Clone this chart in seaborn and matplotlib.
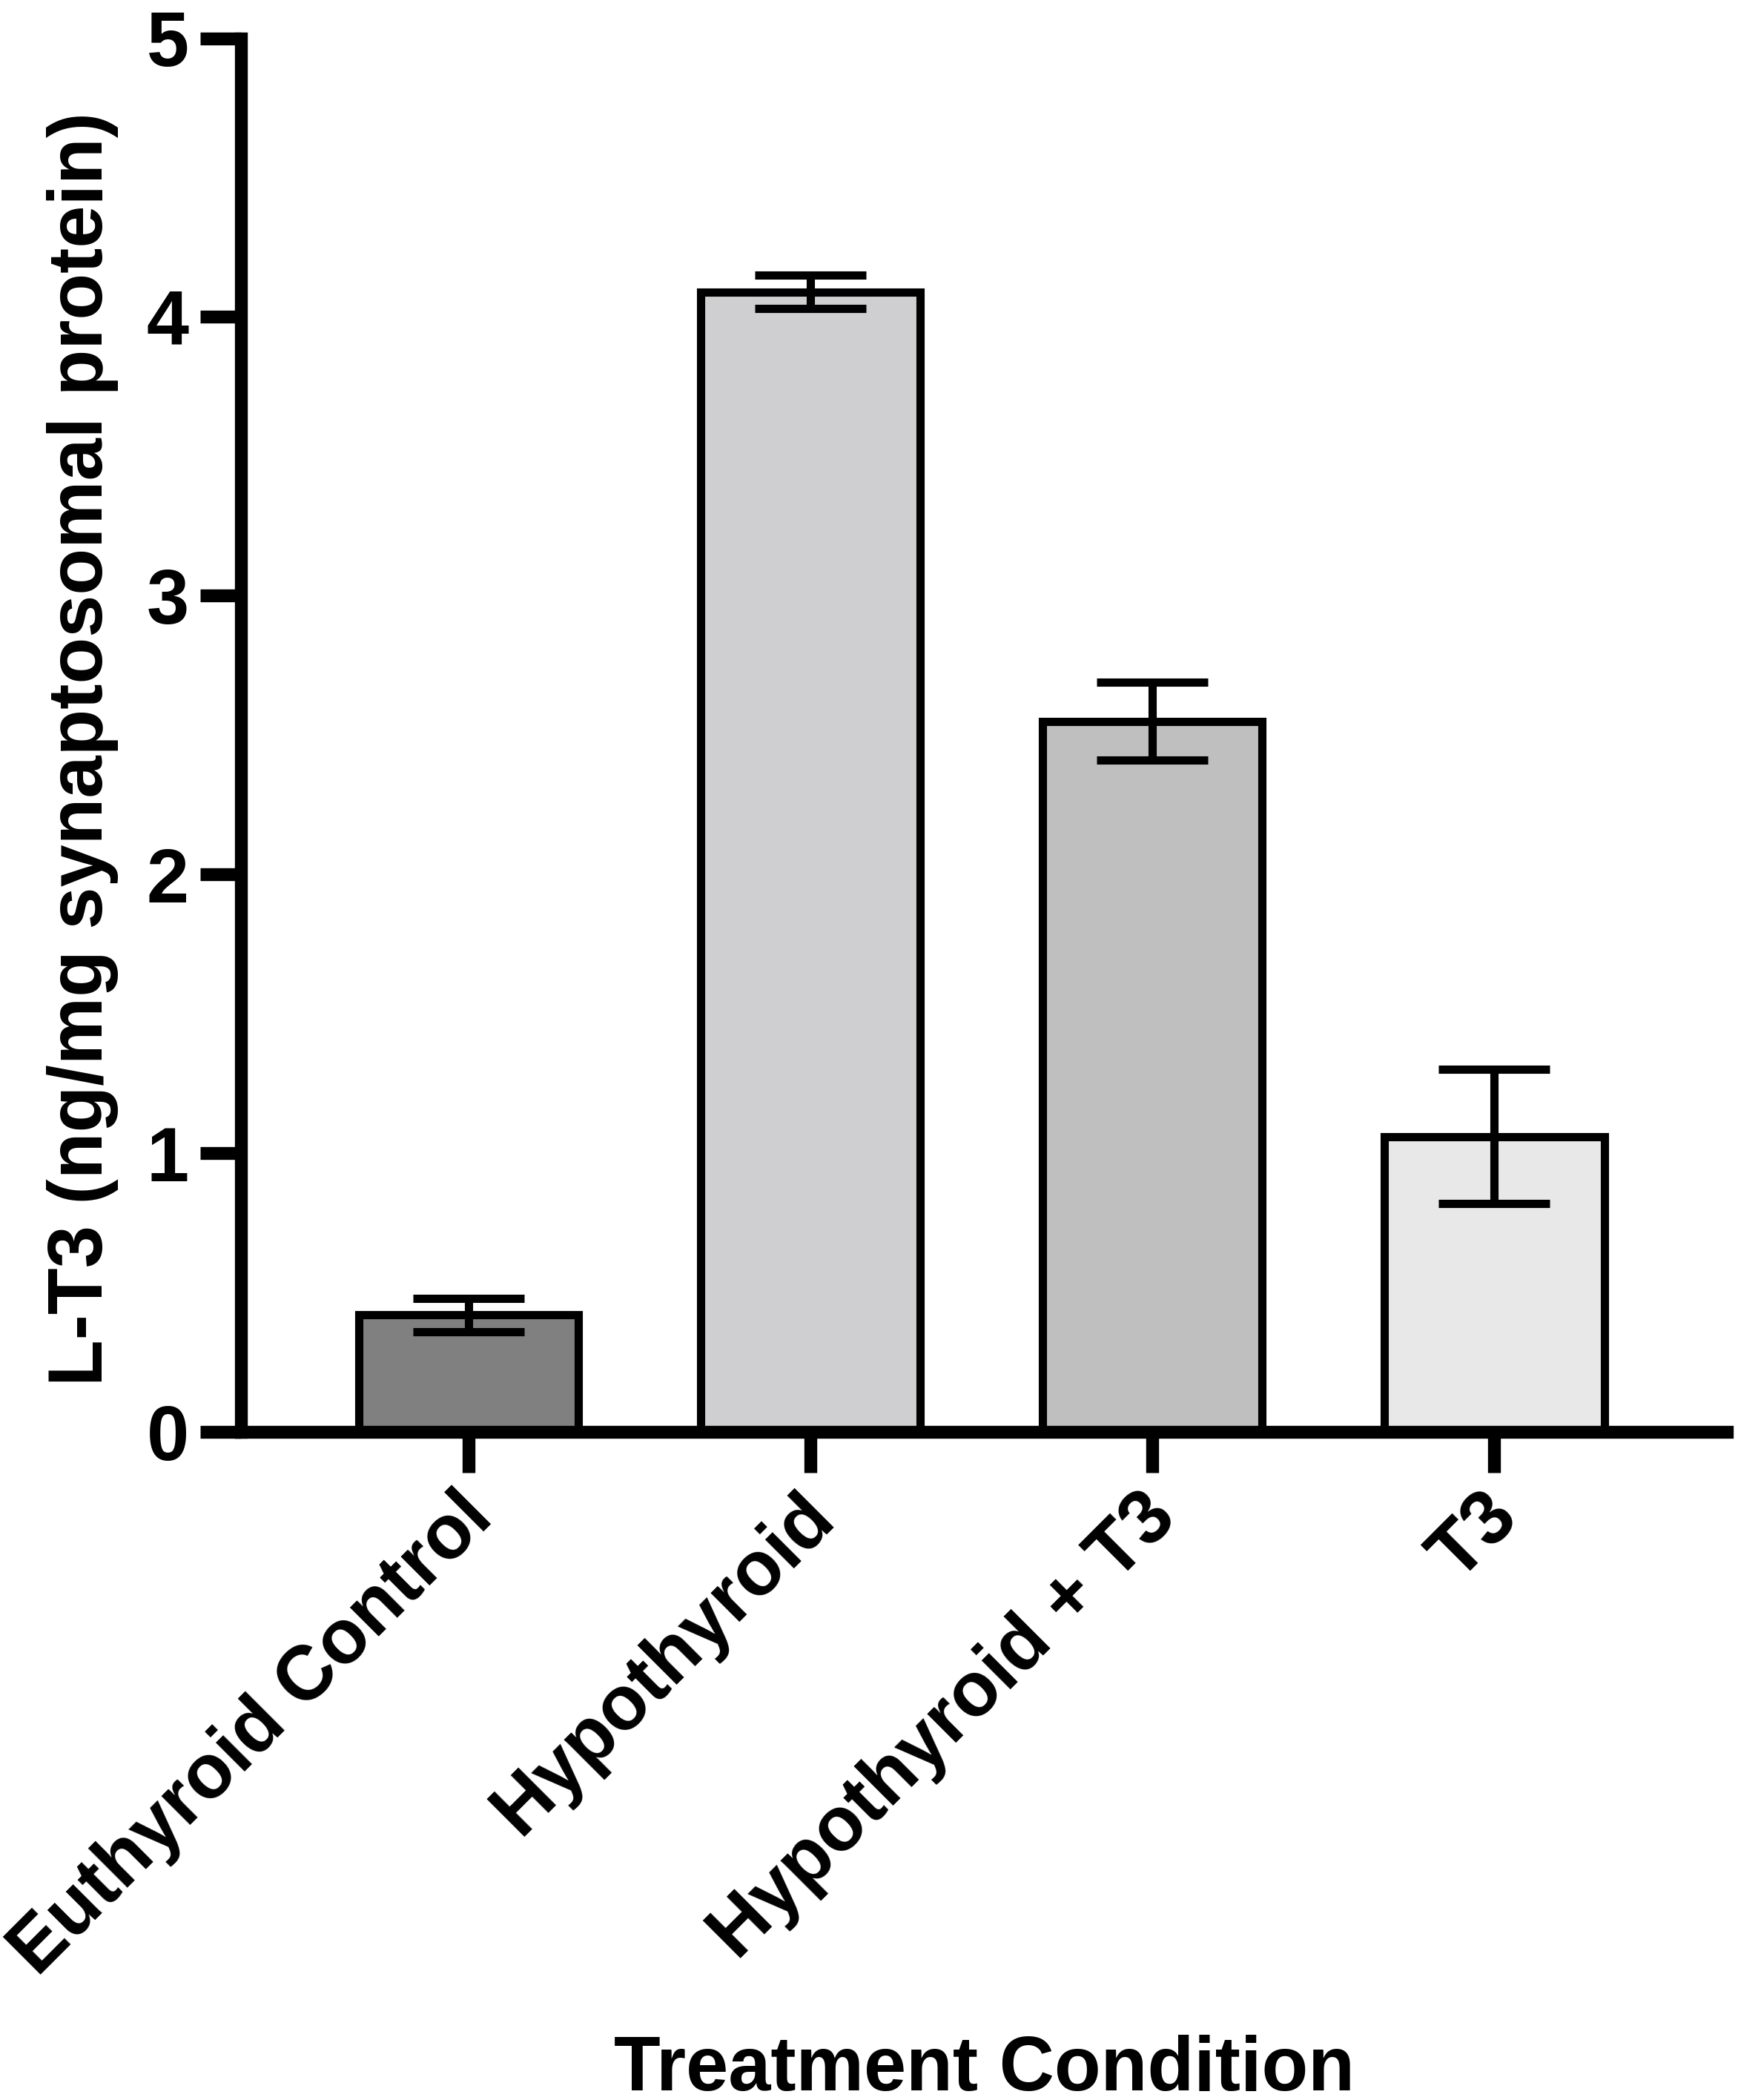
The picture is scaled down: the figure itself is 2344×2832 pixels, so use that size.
import matplotlib
matplotlib.use("Agg")
import matplotlib.pyplot as plt
import matplotlib.transforms as mtransforms
import seaborn as sns
import pandas as pd

categories = ["Euthyroid Control", "Hypothyroid", "Hypothyroid + T3", "T3"]
means = [0.42, 4.09, 2.55, 1.06]
sems = [0.06, 0.06, 0.14, 0.24]
bar_colors = ["#808080", "#CFCFD1", "#BFBFBF", "#E8E8E8"]
y_ticks = [0, 1, 2, 3, 4, 5]
y_label = "L-T3 (ng/mg synaptosomal protein)"
x_label = "Treatment Condition"

sns.set_style("ticks")
plt.rcParams["font.family"] = ["Liberation Sans", "DejaVu Sans"]
plt.rcParams["font.weight"] = "bold"
for k in ["text.color", "axes.labelcolor", "xtick.color", "ytick.color",
          "axes.edgecolor"]:
    plt.rcParams[k] = "black"

df = pd.DataFrame({"cond": categories, "val": means})

fig = plt.figure(figsize=(23.44, 28.32), dpi=100)
ax = fig.add_axes([0.1387, 0.3181, 0.9936 - 0.1387, 0.9818 - 0.3181])

sns.barplot(data=df, x="cond", y="val", hue="cond", palette=bar_colors,
            legend=False, errorbar=None, width=0.643, edgecolor="black",
            linewidth=8, ax=ax, saturation=1)
ax.errorbar(x=list(range(len(categories))), y=means, yerr=sems, fmt="none",
            ecolor="black", elinewidth=8, capsize=54, capthick=8, zorder=3)

sns.despine(ax=ax)
for s in ["left", "bottom"]:
    ax.spines[s].set_linewidth(12.5)
    ax.spines[s].set_color("black")
ax.tick_params(axis="both", length=39.5, width=12.5, color="black",
               labelcolor="black")
ax.tick_params(axis="y", pad=11)
ax.tick_params(axis="x", pad=28)

ax.set_ylim(0, 5)
ax.set_xlim(-0.665, 3.68)
ax.set_yticks(y_ticks)
ax.set_yticklabels([str(t) for t in y_ticks], fontsize=74, fontweight="bold")
ax.set_xticks(range(len(categories)))
ax.set_xticklabels(categories, fontsize=74, fontweight="bold", rotation=45,
                   ha="right", va="center", rotation_mode="anchor")
shift = mtransforms.ScaledTranslation(0.17, -0.06, fig.dpi_scale_trans)
for tick in ax.xaxis.get_major_ticks():
    tick.label1.set_transform(tick.label1.get_transform() + shift)

ax.set_ylabel(y_label, fontsize=74, fontweight="bold", color="black")
ax.yaxis.set_label_coords(-0.0823, 0.49)
ax.set_xlabel(x_label, fontsize=74, fontweight="bold", color="black")
ax.xaxis.label.set_va("baseline")
ax.xaxis.set_label_coords(0.5, -0.4725)

fig.savefig("out.png", dpi=100, facecolor="white")
